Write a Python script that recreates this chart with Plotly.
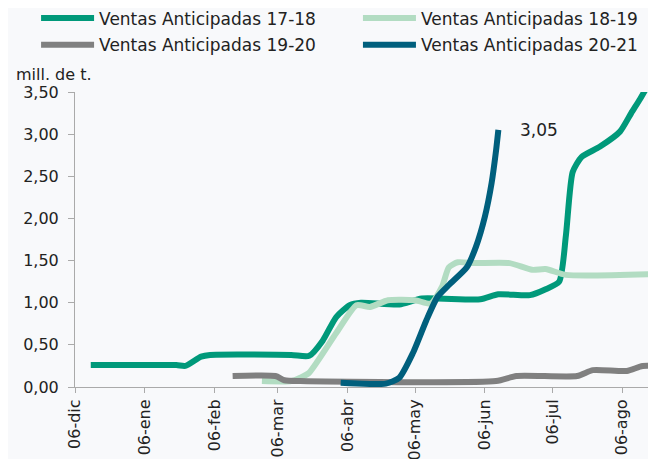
import plotly.graph_objects as go

# Ventas anticipadas acumuladas (mill. de t.)
fechas_1718 = ["2020-12-13", "2021-01-20", "2021-01-24", "2021-01-31", "2021-02-04",
               "2021-03-12", "2021-03-20", "2021-03-26", "2021-04-01", "2021-04-07",
               "2021-04-12", "2021-04-29", "2021-05-09", "2021-06-04", "2021-06-12",
               "2021-06-26", "2021-07-03", "2021-07-09", "2021-07-12", "2021-07-15",
               "2021-07-19", "2021-07-27", "2021-08-05", "2021-08-10", "2021-08-14",
               "2021-08-21"]
ventas_1718 = [0.26, 0.26, 0.25, 0.36, 0.38,
               0.38, 0.37, 0.55, 0.83, 0.97,
               1.00, 0.98, 1.05, 1.04, 1.10,
               1.09, 1.16, 1.25, 1.80, 2.55,
               2.73, 2.85, 3.03, 3.25, 3.42,
               3.75]

fechas_1819 = ["2021-02-27", "2021-03-12", "2021-03-16", "2021-03-20", "2021-04-01",
               "2021-04-10", "2021-04-16", "2021-04-24", "2021-05-06", "2021-05-13",
               "2021-05-18", "2021-05-21", "2021-05-25", "2021-06-01", "2021-06-17",
               "2021-06-27", "2021-07-03", "2021-07-12", "2021-08-21"]
ventas_1819 = [0.07, 0.07, 0.11, 0.17, 0.64,
               0.97, 0.95, 1.03, 1.03, 0.99,
               1.19, 1.42, 1.48, 1.47, 1.47,
               1.39, 1.40, 1.33, 1.34]

fechas_1920 = ["2021-02-14", "2021-03-05", "2021-03-09", "2021-03-16", "2021-06-11",
               "2021-06-20", "2021-07-17", "2021-07-24", "2021-08-08", "2021-08-15",
               "2021-08-21"]
ventas_1920 = [0.13, 0.13, 0.08, 0.07, 0.07,
               0.13, 0.13, 0.20, 0.19, 0.25,
               0.25]

fechas_2021 = ["2021-04-03", "2021-04-23", "2021-04-29", "2021-05-05", "2021-05-11",
               "2021-05-16", "2021-05-21", "2021-05-29", "2021-06-02", "2021-06-06",
               "2021-06-09", "2021-06-11", "2021-06-12"]
ventas_2021 = [0.05, 0.04, 0.11, 0.40, 0.79,
               1.07, 1.21, 1.42, 1.66, 2.02,
               2.42, 2.81, 3.05]

tick_fechas = ["2020-12-06", "2021-01-06", "2021-02-06", "2021-03-06", "2021-04-06",
               "2021-05-06", "2021-06-06", "2021-07-06", "2021-08-06"]
tick_textos = ["06-dic", "06-ene", "06-feb", "06-mar", "06-abr",
               "06-may", "06-jun", "06-jul", "06-ago"]

series = [
    ("Ventas Anticipadas 17-18", fechas_1718, ventas_1718, "#00997a", "legend"),
    ("Ventas Anticipadas 18-19", fechas_1819, ventas_1819, "#b2dcc2", "legend2"),
    ("Ventas Anticipadas 19-20", fechas_1920, ventas_1920, "#808080", "legend3"),
    ("Ventas Anticipadas 20-21", fechas_2021, ventas_2021, "#005f7d", "legend4"),
]

fig = go.Figure()
for nombre, x, y, color, ley in series:
    fig.add_trace(
        go.Scatter(
            x=x,
            y=y,
            name=nombre,
            mode="lines",
            legend=ley,
            line=dict(color=color, width=6, shape="spline", smoothing=0.6),
        )
    )

fig.add_annotation(
    x=fechas_2021[-1],
    y=ventas_2021[-1],
    text="3,05",
    showarrow=False,
    xanchor="left",
    yanchor="middle",
    xshift=20,
    yshift=0,
    font=dict(size=17),
)

fig.add_annotation(
    x=0,
    y=1,
    xref="paper",
    yref="paper",
    text="mill. de t.",
    showarrow=False,
    xanchor="left",
    yanchor="middle",
    xshift=-61,
    yshift=18,
    font=dict(size=16),
)

# una leyenda por entrada para colocarlas en dos filas y dos columnas
ley_base = dict(orientation="h", xanchor="left", yanchor="middle",
                itemwidth=53, font=dict(size=17), bgcolor="rgba(0,0,0,0)")

# la pagina deja 8 px de margen en el body: se descuentan aqui
fig.update_layout(
    width=656,
    height=459,
    margin=dict(l=67, r=8, t=84, b=80, autoexpand=False),
    paper_bgcolor="#f8f9fb",
    plot_bgcolor="#f8f9fb",
    font=dict(family="DejaVu Sans", size=16, color="#222222"),
    separators=",.",
    showlegend=True,
    legend=dict(ley_base, x=-0.067, y=1.249),
    legend2=dict(ley_base, x=0.487, y=1.249),
    legend3=dict(ley_base, x=-0.067, y=1.159),
    legend4=dict(ley_base, x=0.487, y=1.159),
    xaxis=dict(
        range=["2020-12-06", "2021-08-21"],
        tickvals=tick_fechas,
        ticktext=tick_textos,
        tickangle=-90,
        showgrid=False,
        zeroline=False,
        showline=True,
        linecolor="#aaaaaa",
        ticks="outside",
        ticklen=5,
        tickcolor="#aaaaaa",
    ),
    yaxis=dict(
        range=[0, 3.5],
        tickvals=[0, 0.5, 1, 1.5, 2, 2.5, 3, 3.5],
        tickformat=".2f",
        showgrid=False,
        zeroline=False,
        showline=True,
        linecolor="#aaaaaa",
        ticks="outside",
        ticklen=6,
        tickcolor="#aaaaaa",
        ticklabelstandoff=6,
    ),
)

fig.write_html("out.html")
